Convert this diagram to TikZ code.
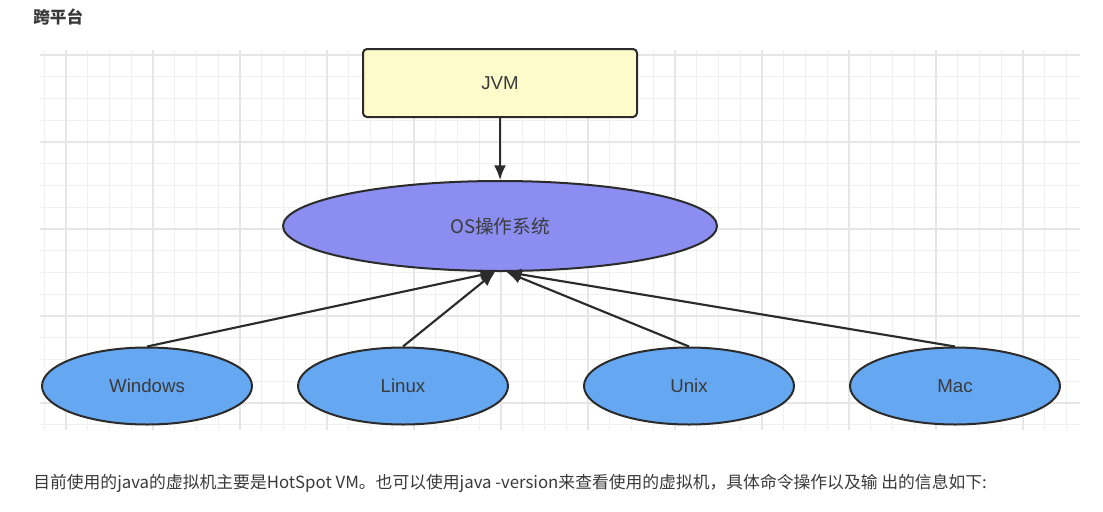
\documentclass[tikz,border=0pt]{standalone}
\usepackage{fontspec}
\setmainfont{Liberation Sans}
\newfontfamily\cjk{Noto Sans CJK SC}
\usepackage{tikz}
\usetikzlibrary{arrows.meta,shapes.geometric}

\definecolor{gridminor}{HTML}{F0F0F0}
\definecolor{gridmajor}{HTML}{E6E6E6}
\definecolor{edge}{HTML}{2B2B2B}
\definecolor{label}{HTML}{3A3A3A}
\definecolor{jvmfill}{HTML}{FCFBC9}
\definecolor{osfill}{HTML}{8B8EF0}
\definecolor{sysfill}{HTML}{66A7F2}

\begin{document}
\begin{tikzpicture}[x=0.75pt,y=-0.75pt,>={Latex[length=11pt,width=9pt]},
    box/.style={draw=edge, line width=1.5pt, rounded corners=3pt, fill=jvmfill,
        minimum width=205.5pt, minimum height=51pt, inner sep=0pt,
        font=\fontsize{14}{16}\selectfont, text=label},
    osnode/.style={ellipse, draw=edge, line width=1.5pt, fill=osfill,
        minimum width=325.5pt, minimum height=67.5pt, inner sep=0pt,
        font=\cjk\fontsize{14}{16}\selectfont, text=label},
    sysnode/.style={ellipse, draw=edge, line width=1.5pt, fill=sysfill,
        minimum width=157.5pt, minimum height=57.75pt, inner sep=0pt,
        font=\fontsize{14}{16}\selectfont, text=label},
    link/.style={->, line width=1.6pt, draw=edge}]
    % Page
    \fill[white] (0,0) rectangle (1103,511);
    \useasboundingbox (0,0) rectangle (1103,511);

    % Grid
    \foreach \k in {0,...,47}{
        \pgfmathsetmacro{\gx}{44.25+21.75*\k}
        \draw[gridminor, line width=0.75pt] (\gx,50) -- (\gx,430);
    }
    \foreach \k in {0,...,17}{
        \pgfmathsetmacro{\gy}{55+21.75*\k}
        \draw[gridminor, line width=0.75pt] (40,\gy) -- (1080,\gy);
    }
    \foreach \k in {1,5,...,45}{
        \pgfmathsetmacro{\gx}{44.25+21.75*\k}
        \draw[gridmajor, line width=0.8pt] (\gx,50) -- (\gx,430);
    }
    \foreach \k in {0,4,...,16}{
        \pgfmathsetmacro{\gy}{55+21.75*\k}
        \draw[gridmajor, line width=0.8pt] (40,\gy) -- (1080,\gy);
    }

    % Title
    \node[anchor=west, inner sep=0pt, text=label,
        font=\cjk\bfseries\fontsize{12.5}{14}\selectfont] (title) at (33,17) {跨平台};

    % Nodes
    \node[box] (jvm) at (500,83) {JVM};
    \node[osnode] (os) at (500,226) {OS操作系统};
    \node[sysnode] (win) at (147,386) {Windows};
    \node[sysnode] (linux) at (403,386) {Linux};
    \node[sysnode] (unix) at (689,386) {Unix};
    \node[sysnode] (mac) at (955,386) {Mac};

    % Arrows
    \draw[link] (jvm) -- (os);
    \draw[link] (win.north) -- (os.264);
    \draw[link] (linux.north) -- (os.264);
    \draw[link] (unix.north) -- (os.278);
    \draw[link] (mac.north) -- (os.278);

    % Note below
    \node[anchor=west, inner sep=0pt, text=label,
        font=\cjk\fontsize{12.6}{15}\selectfont] (note) at (33,483)
        {目前使用的java的虚拟机主要是HotSpot VM。也可以使用java -version来查看使用的虚拟机，具体命令操作以及输 出的信息如下:};
\end{tikzpicture}
\end{document}
